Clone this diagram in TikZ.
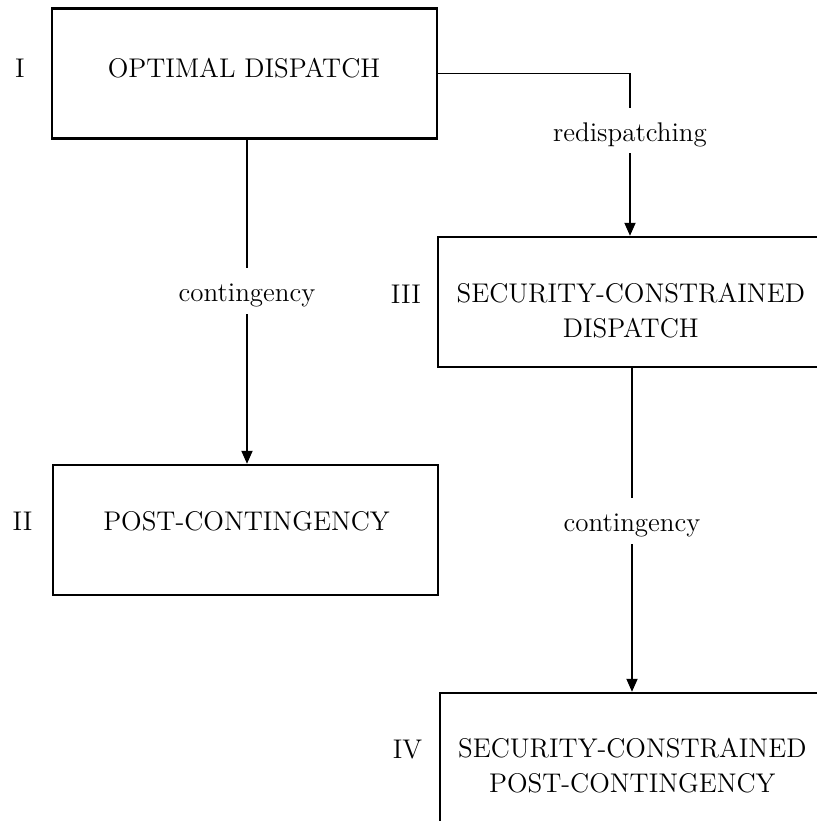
\documentclass[tikz,border=0pt]{standalone}
\usepackage{tikz}
\usetikzlibrary{arrows.meta,positioning,calc}
\tikzset{
  blk/.style={rectangle, draw=black, line width=1.2pt, minimum width=192.5pt, minimum height=65pt, inner sep=0pt},
  txt/.style={font=\fontsize{13.5}{17.5}\selectfont, align=center, inner sep=0pt},
  num/.style={font=\fontsize{13.5}{17.5}\selectfont, inner sep=0pt},
  lbl/.style={font=\fontsize{13.5}{17.5}\selectfont, text height=12.5pt, text depth=2pt, inner xsep=2pt, inner ysep=4pt},
  wire/.style={line width=0.9pt},
  link/.style={wire, -{Triangle[length=6.5pt,width=5.5pt]}},
}

\begin{document}
\begin{tikzpicture}[x=0.5pt, y=-0.5pt]
  \useasboundingbox (0,0) rectangle (817,821);
  \clip (0,0) rectangle (817,821);
  % the four states
  \node[blk] (opt)  at (244.5,73.5) {};
  \node[blk] (post) at (245.5,530) {};
  \node[blk] (scd)  at (630.5,302) {};
  \node[blk] (scpc) at (632.5,758) {};
  \node[txt] (optT)  at (244,68) {OPTIMAL DISPATCH};
  \node[txt] (postT) at (246.5,521) {POST-CONTINGENCY};
  \node[txt] (scdT)  at (630.8,310.8) {SECURITY-CONSTRAINED\\ DISPATCH};
  \node[txt] (scpcT) at (632.3,765.5) {SECURITY-CONSTRAINED\\ POST-CONTINGENCY};
  \node[num] (nI)   at (20,68) {I};
  \node[num] (nII)  at (22.5,521) {II};
  \node[num] (nIII) at (406,294) {III};
  \node[num] (nIV)  at (407.5,750) {IV};
  % transitions
  \node[lbl, anchor=base] (cont1)  at (247,301.7) {contingency};
  \node[lbl, anchor=base] (redisp) at (630,141) {redispatching};
  \node[lbl, anchor=base] (cont2)  at (632,531.7) {contingency};
  \draw[wire] (opt.south -| cont1) -- (cont1);
  \draw[link] (cont1) -- (cont1 |- post.north);
  \draw[wire] (opt.east) -| (redisp);
  \draw[link] (redisp) -- (redisp |- scd.north);
  \draw[wire] (scd.south -| cont2) -- (cont2);
  \draw[link] (cont2) -- (cont2 |- scpc.north);
\end{tikzpicture}
\end{document}
